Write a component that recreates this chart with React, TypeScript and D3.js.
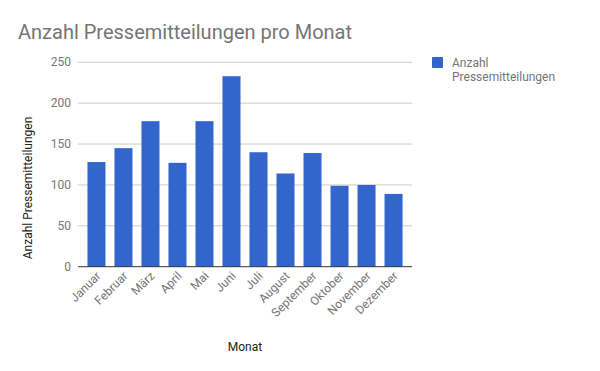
import React from "react";
import * as d3 from "d3";

const months = ["Januar", "Februar", "März", "April", "Mai", "Juni", "Juli", "August", "September", "Oktober", "November", "Dezember"];
const counts = [128, 145, 178, 127, 178, 233, 140, 114, 139, 99, 100, 89];
const yTicks = [0, 50, 100, 150, 200, 250];

const App = () => {
  const left = 78;
  const right = 412;
  const top = 62.3;
  const bottom = 266.7;

  const x = d3.scaleBand().domain(months).range([left, right]).paddingInner(0.333).paddingOuter(0.35);
  const y = d3.scaleLinear().domain([0, 250]).range([bottom, top]);
  const font = "Roboto, Arial, sans-serif";

  return (
    <svg width={600} height={371} style={{ position: "absolute", left: 0, top: 0 }} fontFamily={font}>
      <rect width={600} height={371} fill="#fff" />
      <text x={18} y={39} fontSize={20} fill="#757575">Anzahl Pressemitteilungen pro Monat</text>

      {yTicks.map((t) => (
        <g key={t}>
          {t > 0 && <line x1={left} x2={right} y1={y(t)} y2={y(t)} stroke="#cccccc" strokeWidth={1} />}
          <text x={71} y={y(t) + 4} textAnchor="end" fontSize={12} fill="#757575">{t}</text>
        </g>
      ))}

      {months.map((m, i) => (
        <rect key={m} x={x(m)} y={y(counts[i])} width={x.bandwidth()} height={bottom - y(counts[i])} fill="#3366cc" />
      ))}

      <line x1={left} x2={right} y1={bottom} y2={bottom} stroke="#333333" strokeWidth={1} />

      {months.map((m) => {
        const cx = (x(m) as number) + x.bandwidth() / 2 + 5;
        const cy = bottom + 10;
        return (
          <text key={m} x={cx} y={cy} transform={`rotate(-45 ${cx} ${cy})`} textAnchor="end" fontSize={12} fill="#757575">{m}</text>
        );
      })}

      <text x={245} y={351} textAnchor="middle" fontSize={12} fill="#222222">Monat</text>
      <text x={0} y={0} transform={`translate(32 188) rotate(-90)`} textAnchor="middle" fontSize={12} fill="#222222">Anzahl Pressemitteilungen</text>

      <rect x={432} y={57} width={11} height={11} fill="#3366cc" rx={1} />
      <text x={452} y={67} fontSize={12} fill="#757575">Anzahl</text>
      <text x={452} y={81} fontSize={12} fill="#757575">Pressemitteilungen</text>
    </svg>
  );
};

export default App;
